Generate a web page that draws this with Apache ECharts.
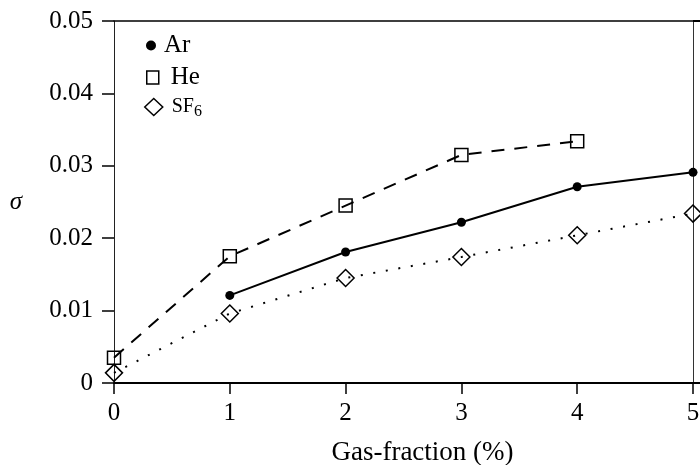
<!DOCTYPE html>
<html>
<head>
<meta charset="utf-8">
<script src="https://cdn.jsdelivr.net/npm/echarts@6/dist/echarts.min.js"></script>
<style>
html,body{margin:0;padding:0;background:#fff;}
#chart{width:700px;height:465px;}
</style>
</head>
<body>
<div id="chart"></div>
<script>
// ---- data ----
var gasFraction = [0, 1, 2, 3, 4, 5];
var arValues  = [null, 0.0121, 0.0181, 0.0222, 0.0271, 0.0291];
var heValues  = [0.0035, 0.0175, 0.0245, 0.0315, 0.0334, null];
var sf6Values = [0.0014, 0.0096, 0.0145, 0.0174, 0.0204, 0.0234];
var seriesNames = ['Ar', 'He', 'SF6'];
var yTickLabels = ['0', '0.01', '0.02', '0.03', '0.04', '0.05'];
var xTickLabels = ['0', '1', '2', '3', '4', '5'];

function pairs(vals) {
  var out = [];
  for (var i = 0; i < gasFraction.length; i++) {
    if (vals[i] !== null) out.push([gasFraction[i], vals[i]]);
  }
  return out;
}

var FONT = '"Liberation Serif", "DejaVu Serif", serif';
var chart = echarts.init(document.getElementById('chart'), null, {renderer: 'canvas'});

var legendCommon = {
  orient: 'vertical',
  itemGap: 0,
  textStyle: {fontFamily: FONT, fontSize: 25, color: '#000', padding: [0, 0, 0, 0],
    rich: {
      sc: {fontFamily: FONT, fontSize: 20, color: '#000'},
      sub: {fontFamily: FONT, fontSize: 16, color: '#000', padding: [9, 0, 0, 0]}
    }
  },
  selectedMode: false
};

var option = {
  animation: false,
  backgroundColor: '#fff',
  grid: {left: 114, right: 7, top: 21, bottom: 82, containLabel: false, outerBoundsMode: 'none'},
  legend: [
    Object.assign({}, legendCommon, {
      left: 141, top: 28, itemWidth: 10, itemHeight: 10,
      textStyle: Object.assign({}, legendCommon.textStyle, {padding: [0, 0, 0, 3]}),
      data: [{name: seriesNames[0], icon: 'circle',
        itemStyle: {color: '#000', borderColor: '#000', borderWidth: 0}}]
    }),
    Object.assign({}, legendCommon, {
      left: 141, top: 60, itemWidth: 12, itemHeight: 13,
      textStyle: Object.assign({}, legendCommon.textStyle, {padding: [0, 0, 0, 7]}),
      data: [{name: seriesNames[1], icon: 'rect',
        itemStyle: {color: '#fff', borderColor: '#000', borderWidth: 1.5}}]
    }),
    Object.assign({}, legendCommon, {
      left: 139, top: 92, itemWidth: 18, itemHeight: 17,
      formatter: function () { return '{sc|SF}{sub|6}'; },
      textStyle: Object.assign({}, legendCommon.textStyle, {padding: [0, 0, 0, 4]}),
      data: [{name: seriesNames[2], icon: 'diamond',
        itemStyle: {color: '#fff', borderColor: '#000', borderWidth: 1.5}}]
    })
  ],
  xAxis: [{
    type: 'value', min: 0, max: 5, interval: 1, position: 'bottom',
    name: 'Gas-fraction (%)', nameLocation: 'middle', nameGap: 56,
    nameTextStyle: {fontFamily: FONT, fontSize: 27, color: '#000', padding: [0, 0, 0, 38]},
    axisLine: {show: true, onZero: false, lineStyle: {color: '#000', width: 2}},
    axisTick: {show: true, inside: false, length: 11, lineStyle: {color: '#000', width: 1.5}},
    axisLabel: {margin: 18, fontFamily: FONT, fontSize: 25, color: '#000',
      formatter: function (v) { return xTickLabels[Math.round(v)]; }},
    splitLine: {show: false}
  }, {
    type: 'value', min: 0, max: 5, interval: 1, position: 'top',
    axisLine: {show: true, onZero: false, lineStyle: {color: '#000', width: 1.5}},
    axisTick: {show: false}, axisLabel: {show: false}, splitLine: {show: false}
  }],
  yAxis: [{
    type: 'value', min: 0, max: 0.05, interval: 0.01, position: 'left',
    name: 'σ', nameLocation: 'middle', nameRotate: 0, nameGap: 92,
    nameTextStyle: {fontFamily: FONT, fontSize: 25, fontStyle: 'italic', color: '#000'},
    axisLine: {show: true, onZero: false, lineStyle: {color: '#222', width: 1}},
    axisTick: {show: true, inside: false, length: 12, lineStyle: {color: '#000', width: 1.5}},
    axisLabel: {margin: 21, fontFamily: FONT, fontSize: 25, color: '#000',
      formatter: function (v) { return yTickLabels[Math.round(v * 100)]; }},
    splitLine: {show: false}
  }, {
    type: 'value', min: 0, max: 0.05, interval: 0.01, position: 'right',
    axisLine: {show: true, onZero: false, lineStyle: {color: '#333', width: 1}},
    axisTick: {show: true, inside: false, length: 7, customValues: [0, 0.05], lineStyle: {color: '#000', width: 2}},
    axisLabel: {show: false}, splitLine: {show: false}
  }],
  series: [{
    name: seriesNames[0], type: 'line', data: pairs(arValues),
    symbol: 'circle', symbolSize: 9,
    lineStyle: {color: '#000', width: 2, type: 'solid'},
    itemStyle: {color: '#000', borderColor: '#000', borderWidth: 0}
  }, {
    name: seriesNames[1], type: 'line', data: pairs(heValues),
    symbol: 'rect', symbolSize: [13, 13],
    lineStyle: {color: '#000', width: 2, type: [13, 10]},
    itemStyle: {color: 'rgba(255,255,255,0)', borderColor: '#000', borderWidth: 1.5}
  }, {
    name: seriesNames[2], type: 'line', data: pairs(sf6Values),
    symbol: 'diamond', symbolSize: [17, 17],
    lineStyle: {color: '#000', width: 2, type: [2, 10.7]},
    itemStyle: {color: 'rgba(255,255,255,0)', borderColor: '#000', borderWidth: 1.5}
  }]
};
chart.setOption(option);
</script>
</body>
</html>
